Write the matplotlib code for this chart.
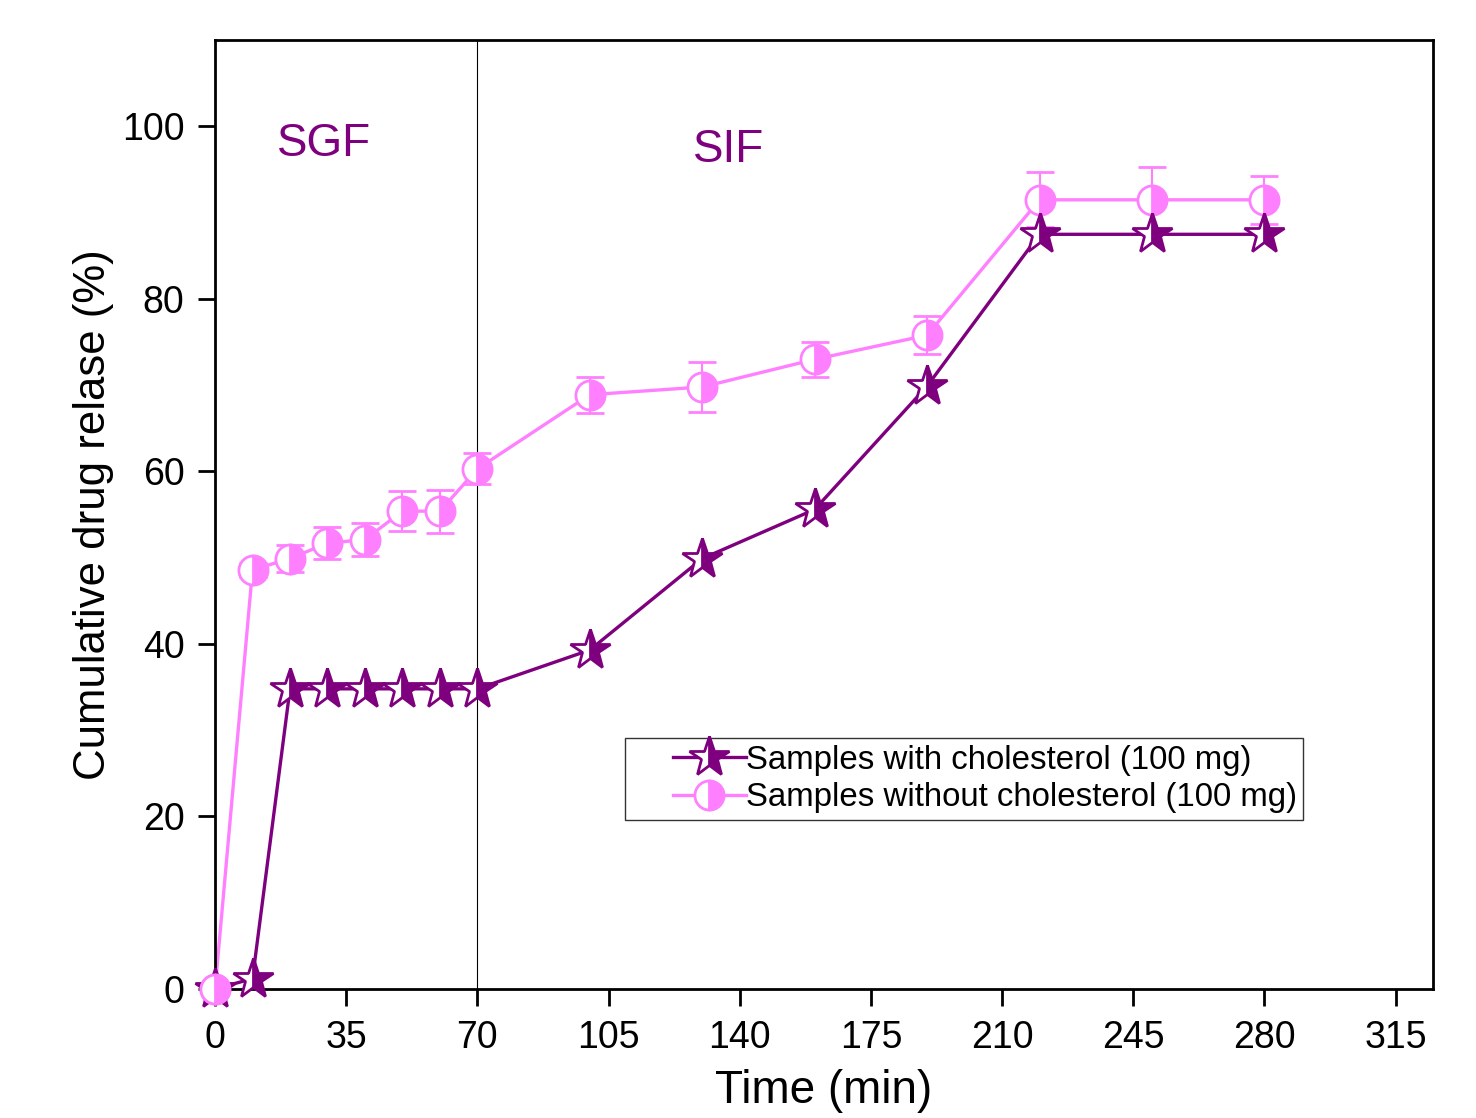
import matplotlib.pyplot as plt
from matplotlib.lines import Line2D
from matplotlib.legend_handler import HandlerLine2D

plt.rcParams['font.family'] = ['Liberation Sans', 'DejaVu Sans']

# 时间点 (min)
t = [0, 10, 20, 30, 40, 50, 60, 70, 100, 130, 160, 190, 220, 250, 280]
# 含胆固醇
with_chol = [0, 1.2, 34.8, 34.8, 34.8, 34.8, 34.8, 34.8, 39.3, 49.9, 55.6, 69.9, 87.5, 87.5, 87.5]
# 不含胆固醇
without_chol = [0, 48.6, 49.9, 51.7, 52.1, 55.4, 55.4, 60.3, 68.9, 69.8, 73.0, 75.8, 91.5, 91.5, 91.5]
without_err = [0.4, 0.8, 1.6, 1.9, 1.9, 2.3, 2.5, 1.8, 2.1, 2.9, 2.0, 2.2, 3.2, 3.8, 2.8]

xticks = [0, 35, 70, 105, 140, 175, 210, 245, 280, 315]
yticks = [0, 20, 40, 60, 80, 100]

purple = '#7f007f'
pink = '#ff80ff'

fig = plt.figure(figsize=(14.76, 11.18), dpi=100)
ax = fig.add_axes([0.1457, 0.1154, 0.9709 - 0.1457, 0.964 - 0.1154])

pink_style = dict(color=pink, lw=2.4, marker='o', ms=21, fillstyle='right',
                  markerfacecoloralt='white', mec=pink, mew=2)
star_style = dict(color=purple, lw=2.4, marker='*', ms=30, fillstyle='right',
                  markerfacecoloralt='white', mec=purple, mew=2)

ax.plot(t, with_chol, zorder=3, clip_on=False, **star_style)
ax.errorbar(t[:1], without_chol[:1], zorder=5, clip_on=False, **pink_style)
ax.errorbar(t, without_chol, yerr=without_err, capsize=10, capthick=1.5,
            elinewidth=1.5, zorder=2, clip_on=False, **pink_style)

ax.axvline(70, color='black', lw=0.8, zorder=1)
ax.text(29, 98, 'SGF', color=purple, fontsize=33, ha='center', va='center')
ax.text(137, 97.3, 'SIF', color=purple, fontsize=33, ha='center', va='center')

ax.set_xlim(0, 325)
ax.set_ylim(0, 110)
ax.set_xticks(xticks)
ax.set_yticks(yticks)
ax.tick_params(labelsize=27, length=12, width=2, direction='out', pad=10)
for s in ax.spines.values():
    s.set_linewidth(2)
ax.set_xlabel('Time (min)', fontsize=33, labelpad=10)
ax.set_ylabel('Cumulative drug relase (%)', fontsize=31.5, labelpad=6)

handles = [Line2D([], [], **star_style), Line2D([], [], **pink_style)]
labels = ['Samples with cholesterol (100 mg)', 'Samples without cholesterol (100 mg)']
leg = ax.legend(handles, labels, loc='upper left',
                bbox_to_anchor=(0.3366, 0.2645), fontsize=23.8, frameon=True,
                fancybox=False, edgecolor='black', handlelength=3.45,
                handletextpad=0.0, borderpad=0.2, labelspacing=0.2,
                borderaxespad=0, handler_map={Line2D: HandlerLine2D(xpad=1.25)})
leg.get_frame().set_linewidth(1)

plt.savefig('out.png')
